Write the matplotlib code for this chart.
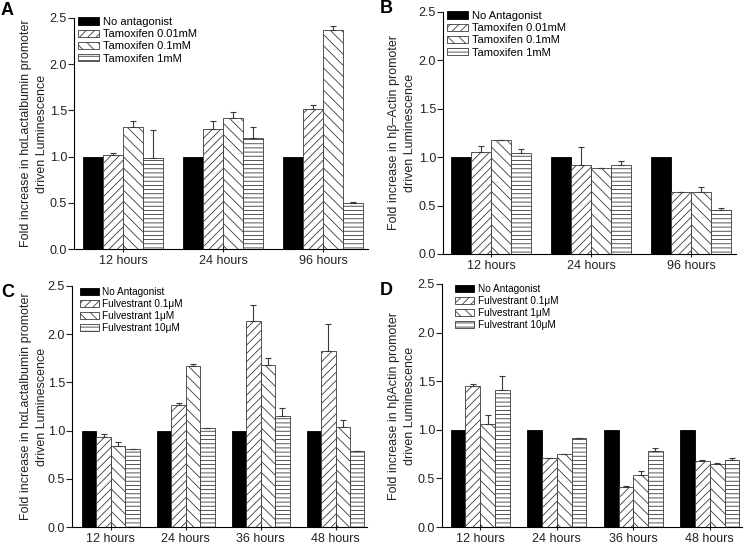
import matplotlib
matplotlib.use("Agg")
import matplotlib.pyplot as plt
import numpy as np

plt.rcParams['font.family'] = ['Liberation Sans', 'DejaVu Sans']
plt.rcParams['hatch.linewidth'] = 0.6
plt.rcParams['axes.linewidth'] = 0.8

# panel A: h-alpha-lactalbumin promoter, tamoxifen
a_groups = ['12 hours', '24 hours', '96 hours']
a_labels = ['No antagonist', 'Tamoxifen 0.01mM', 'Tamoxifen 0.1mM', 'Tamoxifen 1mM']
a_vals = [[1.0, 1.0, 1.0], [1.02, 1.30, 1.51], [1.32, 1.42, 2.37], [0.99, 1.20, 0.50]]
a_err = [[0, 0, 0], [0.02, 0.08, 0.05], [0.06, 0.065, 0.045], [0.30, 0.12, 0.01]]

# panel B: h-beta-actin promoter, tamoxifen
b_groups = ['12 hours', '24 hours', '96 hours']
b_labels = ['No Antagonist', 'Tamoxifen 0.01mM', 'Tamoxifen 0.1mM', 'Tamoxifen 1mM']
b_vals = [[1.0, 1.0, 1.0], [1.05, 0.92, 0.64], [1.18, 0.89, 0.64], [1.04, 0.92, 0.45]]
b_err = [[0, 0, 0], [0.065, 0.19, 0.005], [0, 0, 0.05], [0.04, 0.04, 0.03]]

# panel C: h-alpha-lactalbumin promoter, fulvestrant
c_groups = ['12 hours', '24 hours', '36 hours', '48 hours']
c_labels = ['No Antagonist', 'Fulvestrant 0.1\u03bcM', 'Fulvestrant 1\u03bcM', 'Fulvestrant 10\u03bcM']
c_vals = [[1.0, 1.0, 1.0, 1.0], [0.93, 1.27, 2.14, 1.83],
          [0.84, 1.67, 1.68, 1.04], [0.81, 1.03, 1.15, 0.785]]
c_err = [[0, 0, 0, 0], [0.03, 0.02, 0.165, 0.28],
         [0.045, 0.02, 0.07, 0.066], [0, 0, 0.087, 0]]

# panel D: h-beta-actin promoter, fulvestrant
d_groups = ['12 hours', '24 hours', '36 hours', '48 hours']
d_labels = ['No Antagonist', 'Fulvestrant 0.1\u03bcM', 'Fulvestrant 1\u03bcM', 'Fulvestrant 10\u03bcM']
d_vals = [[1.0, 1.0, 1.0, 1.0], [1.45, 0.71, 0.41, 0.68],
          [1.06, 0.75, 0.54, 0.65], [1.41, 0.92, 0.78, 0.69]]
d_err = [[0, 0, 0, 0], [0.025, 0.005, 0.008, 0.01],
         [0.095, 0, 0.035, 0.007], [0.145, 0, 0.03, 0.024]]

hatches = [None, '////', '\\\\\\', '----']

fig = plt.figure(figsize=(7.45, 5.44), dpi=100)
W, H = 745.0, 544.0


def box(left, right, top, bottom):
    return [left / W, 1 - bottom / H, (right - left) / W, (bottom - top) / H]


def draw_panel(ax, groups, labels, vals, errs, width, xlim, ylabel, legsize,
               legpos, label_x):
    x = np.arange(len(groups))
    for i in range(4):
        pos = x + (i - 1.5) * width
        if i == 0:
            ax.bar(pos, vals[i], width, color='black', edgecolor='black',
                   linewidth=0.6, label=labels[i])
        else:
            ax.bar(pos, vals[i], width, color='white', edgecolor='#3a3a3a',
                   linewidth=0.6, hatch=hatches[i], label=labels[i])
            ax.errorbar(pos, vals[i], yerr=[np.zeros(len(groups)), errs[i]],
                        fmt='none', ecolor='#3a3a3a', elinewidth=0.8,
                        capsize=2.5, capthick=0.8)
    ax.set_xlim(*xlim)
    ax.set_ylim(0, 2.5)
    ax.set_yticks([0, 0.5, 1.0, 1.5, 2.0, 2.5])
    ax.set_yticklabels(['0.0', '0.5', '1.0', '1.5', '2.0', '2.5'])
    ax.set_xticks(x)
    ax.set_xticklabels(groups)
    ax.spines['top'].set_visible(False)
    ax.spines['right'].set_visible(False)
    ax.tick_params(axis='y', direction='out', length=4, width=0.8, pad=1,
                   labelsize=9, colors='#222222')
    ax.tick_params(axis='x', direction='inout', length=5, width=0.8, pad=2,
                   labelsize=9, colors='#222222')
    ax.set_ylabel(ylabel, fontsize=9, linespacing=1.4, color='#222222')
    ax.yaxis.set_label_coords(label_x, 0.5)
    ax.legend(loc='upper left', bbox_to_anchor=legpos,
              bbox_transform=fig.transFigure, frameon=False,
              fontsize=legsize, handlelength=1.9, handleheight=0.65,
              handletextpad=0.35, labelspacing=0.2, borderpad=0,
              borderaxespad=0)


axA = fig.add_axes(box(74, 368, 18, 249))
axB = fig.add_axes(box(443, 736, 12, 254))
axC = fig.add_axes(box(72, 367, 286, 527))
axD = fig.add_axes(box(442, 742, 284, 527))

draw_panel(axA, a_groups, a_labels, a_vals, a_err, 0.2, (-0.49, 2.45),
           'Fold increase in h\u03b1Lactalbumin promoter\ndriven Luminescence',
           8, (78 / W, 1 - 17 / H), (48 - 74) / 294)
draw_panel(axB, b_groups, b_labels, b_vals, b_err, 0.2, (-0.48, 2.45),
           'Fold increase in h\u03b2\u2013Actin promoter\ndriven Luminescence',
           8, (447 / W, 1 - 11 / H), (416 - 443) / 293)
draw_panel(axC, c_groups, c_labels, c_vals, c_err, 0.193, (-0.52, 3.42),
           'Fold increase in h\u03b1Lactalbumin promoter\ndriven Luminescence',
           7.2, (80 / W, 1 - 287 / H), (48 - 72) / 295)
draw_panel(axD, d_groups, d_labels, d_vals, d_err, 0.193, (-0.5, 3.42),
           'Fold increase in h\u03b2Actin promoter\ndriven Luminescence',
           7.2, (455 / W, 1 - 284 / H), (416 - 442) / 300)

for letter, px, py in [('A', 1, 2), ('B', 380, 0), ('C', 1, 284), ('D', 380, 282)]:
    fig.text(px / W, 1 - py / H, letter, fontsize=13, fontweight='bold',
             ha='left', va='top')

fig.savefig('out.png', dpi=100)
